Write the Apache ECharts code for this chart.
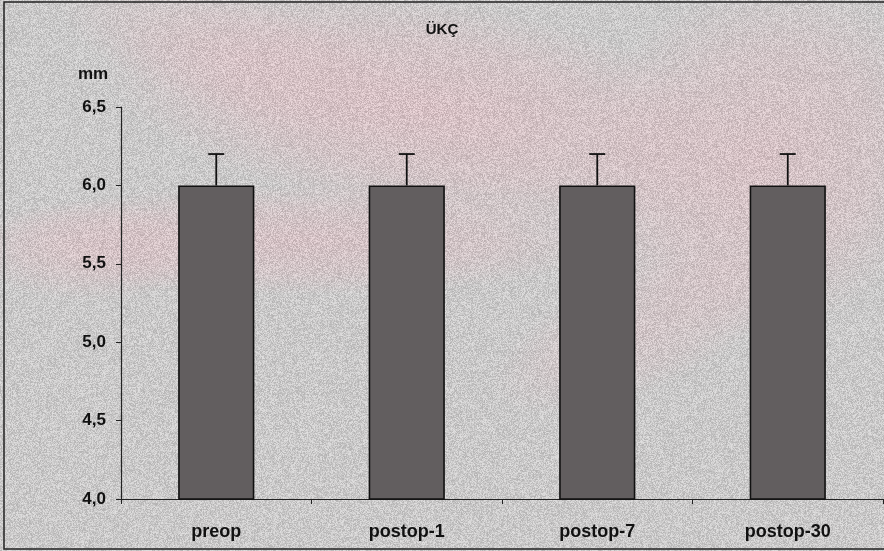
<!DOCTYPE html>
<html><head><meta charset="utf-8">
<script src="https://cdn.jsdelivr.net/npm/echarts@6/dist/echarts.min.js"></script>
<style>html,body{margin:0;padding:0;background:#cccaca}#c{width:884px;height:551px}</style>
</head><body><div id="c"></div>
<script>
const categories = ['preop', 'postop-1', 'postop-7', 'postop-30'];
const means = [6.0, 6.0, 6.0, 6.0];
const errUpper = [6.2, 6.2, 6.2, 6.2];
const yTicks = [4.0, 4.5, 5.0, 5.5, 6.0, 6.5];

// decorative paper texture for the background
function makeTexture(w, h) {
  const cv = document.createElement('canvas');
  cv.width = w; cv.height = h;
  const ctx = cv.getContext('2d');
  ctx.fillStyle = '#cac9c9';
  ctx.fillRect(0, 0, w, h);
  function blob(cx, cy, rx, ry, rot, a) {
    ctx.save();
    ctx.translate(cx, cy); ctx.rotate(rot); ctx.scale(rx, ry);
    const g = ctx.createRadialGradient(0, 0, 0, 0, 0, 1);
    g.addColorStop(0, 'rgba(216,192,196,' + a + ')');
    g.addColorStop(0.6, 'rgba(216,192,196,' + (a * 0.6) + ')');
    g.addColorStop(1, 'rgba(216,192,196,0)');
    ctx.fillStyle = g;
    ctx.beginPath(); ctx.arc(0, 0, 1, 0, Math.PI * 2); ctx.fill();
    ctx.restore();
  }
  blob(430, 110, 330, 110, 0.15, 0.95);
  blob(300, 240, 320, 55, 0.0, 0.8);
  blob(760, 160, 200, 170, -0.5, 0.85);
  blob(90, 250, 120, 50, 0.0, 0.6);
  blob(640, 330, 160, 60, -0.4, 0.5);
  blob(250, 60, 200, 60, 0.3, 0.6);
  const img = ctx.getImageData(0, 0, w, h);
  const d = img.data;
  for (let i = 0; i < d.length; i += 4) {
    const p = i / 4;
    let x = (p * 2654435761) >>> 0; x ^= x >>> 13; x = (x * 1274126177) >>> 0; x ^= x >>> 16;
    const n = ((x & 255) - 128) * 0.18;
    d[i] = Math.max(0, Math.min(255, d[i] + n));
    d[i + 1] = Math.max(0, Math.min(255, d[i + 1] + n));
    d[i + 2] = Math.max(0, Math.min(255, d[i + 2] + n));
  }
  ctx.putImageData(img, 0, 0);
  return cv;
}

const chart = echarts.init(document.getElementById('c'));
const font = '"Liberation Sans", Arial, sans-serif';
chart.setOption({
  backgroundColor: '#cac9c9',
  animation: false,
  title: { text: 'ÜKÇ', left: 'center', top: 17, textStyle: { fontFamily: font, fontSize: 15, fontWeight: 'bold', color: '#111' } },
  graphic: [
    { type: 'image', silent: true, z: -10, left: 0, top: 0, style: { image: makeTexture(884, 551), width: 884, height: 551 } },
    { type: 'rect', silent: true, z: 100, shape: { x: 4, y: 2, width: 884, height: 547 }, style: { fill: 'none', stroke: '#222', lineWidth: 1.5 } },
    { type: 'text', left: 78, top: 66, z: 100, style: { text: 'mm', font: 'bold 17px ' + font, fill: '#111' } }
  ],
  grid: { left: 121, right: 1, top: 107, bottom: 52 },
  xAxis: {
    type: 'category', data: categories,
    axisLine: { lineStyle: { color: '#222', width: 1.2 } },
    axisTick: { show: true, length: 5, lineStyle: { color: '#222' } },
    axisLabel: { margin: 24, fontFamily: font, fontSize: 18, fontWeight: 'bold', color: '#111' }
  },
  yAxis: {
    type: 'value', min: 4.0, max: 6.5, interval: 0.5,
    axisLine: { show: true, lineStyle: { color: '#222', width: 1.2 } },
    axisTick: { show: true, length: 5, lineStyle: { color: '#222' } },
    splitLine: { show: false },
    axisLabel: { margin: 15, fontFamily: font, fontSize: 17, fontWeight: 'bold', color: '#111',
      formatter: v => v.toFixed(1).replace('.', ',') }
  },
  series: [
    { type: 'bar', data: means, barWidth: '40%', z: 2,
      itemStyle: { color: '#625e5f', borderColor: '#111', borderWidth: 1.6 } },
    { type: 'custom', z: 3,
      data: categories.map((c, i) => [i, means[i], errUpper[i]]),
      renderItem: function (params, api) {
        const base = api.coord([api.value(0), api.value(1)]);
        const top = api.coord([api.value(0), api.value(2)]);
        const hw = 8;
        return { type: 'group', children: [
          { type: 'line', shape: { x1: base[0], y1: base[1], x2: top[0], y2: top[1] }, style: { stroke: '#111', lineWidth: 1.8 } },
          { type: 'line', shape: { x1: top[0] - hw, y1: top[1], x2: top[0] + hw, y2: top[1] }, style: { stroke: '#111', lineWidth: 1.8 } }
        ] };
      }
    }
  ]
});
</script></body></html>
